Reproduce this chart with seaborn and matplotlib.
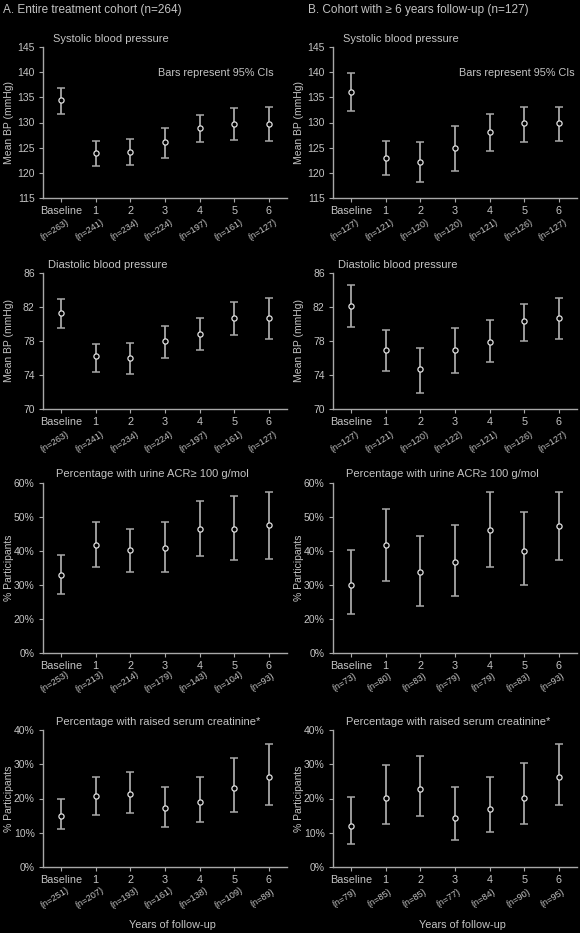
import numpy as np
import pandas as pd
import matplotlib
matplotlib.use("Agg")
import matplotlib.pyplot as plt
import seaborn as sns

# ---------------- data ----------------
categories = ["Baseline", "1", "2", "3", "4", "5", "6"]

# Panel A : entire treatment cohort
sbp_a_mean = [134.5, 124.0, 124.2, 126.2, 129.0, 129.8, 129.7]
sbp_a_lo   = [131.7, 121.3, 121.5, 123.0, 126.2, 126.5, 126.3]
sbp_a_hi   = [136.9, 126.3, 126.8, 129.0, 131.5, 132.8, 133.1]
sbp_a_n    = [263, 241, 234, 224, 197, 161, 127]

dbp_a_mean = [81.3, 76.2, 76.0, 78.0, 78.8, 80.65, 80.65]
dbp_a_lo   = [79.5, 74.4, 74.1, 76.0, 76.9, 78.7, 78.2]
dbp_a_hi   = [82.9, 77.6, 77.8, 79.75, 80.7, 82.6, 83.1]
dbp_a_n    = [263, 241, 234, 224, 197, 161, 127]

acr_a_mean = [32.8, 41.7, 40.2, 40.9, 46.6, 46.5, 47.6]
acr_a_lo   = [27.4, 35.2, 33.7, 33.7, 38.4, 37.3, 37.6]
acr_a_hi   = [38.9, 48.4, 46.6, 48.4, 54.8, 56.1, 57.5]
acr_a_n    = [253, 213, 214, 179, 143, 104, 93]

cr_a_mean  = [15.0, 20.6, 21.4, 17.2, 19.1, 23.0, 26.2]
cr_a_lo    = [11.2, 15.2, 15.9, 11.8, 13.1, 16.2, 18.2]
cr_a_hi    = [19.8, 26.4, 27.6, 23.3, 26.2, 31.9, 35.8]
cr_a_n     = [251, 207, 193, 161, 138, 109, 89]

# Panel B : cohort with >= 6 years follow-up
sbp_b_mean = [136.1, 122.9, 122.1, 124.9, 128.2, 129.9, 129.9]
sbp_b_lo   = [132.3, 119.5, 118.2, 120.3, 124.4, 126.2, 126.4]
sbp_b_hi   = [139.8, 126.4, 126.2, 129.4, 131.7, 133.1, 133.1]
sbp_b_n    = [127, 121, 120, 120, 121, 126, 127]

dbp_b_mean = [82.1, 76.9, 74.7, 77.0, 77.9, 80.3, 80.65]
dbp_b_lo   = [79.7, 74.5, 71.9, 74.2, 75.5, 78.0, 78.2]
dbp_b_hi   = [84.6, 79.3, 77.2, 79.55, 80.5, 82.3, 83.1]
dbp_b_n    = [127, 121, 120, 122, 121, 126, 127]

acr_b_mean = [30.1, 41.7, 33.7, 36.8, 46.3, 40.1, 47.5]
acr_b_lo   = [21.5, 31.3, 23.9, 26.7, 35.2, 29.9, 37.5]
acr_b_hi   = [40.2, 52.5, 44.5, 47.7, 57.5, 51.4, 57.5]
acr_b_n    = [73, 80, 83, 79, 79, 83, 93]

cr_b_mean  = [12.0, 20.1, 22.7, 14.3, 17.0, 20.1, 26.2]
cr_b_lo    = [6.7, 12.6, 14.8, 8.0, 10.1, 12.6, 18.2]
cr_b_hi    = [20.3, 29.8, 32.4, 23.3, 26.4, 30.5, 35.8]
cr_b_n     = [79, 85, 85, 77, 84, 90, 95]

sbp_ticks = [115, 120, 125, 130, 135, 140, 145]
dbp_ticks = [70, 74, 78, 82, 86]
acr_ticks = [10, 20, 30, 40, 50, 60]
acr_tick_labels = ["0%", "20%", "30%", "40%", "50%", "60%"]
cr_ticks = [0, 10, 20, 30, 40]
cr_tick_labels = ["0%", "10%", "20%", "30%", "40%"]

# ---------------- style ----------------
sns.set_theme(style="ticks")
BG = "black"
FG = "#c4c4c4"
BAR = "#a8a8a8"
plt.rcParams["font.family"] = ["Liberation Sans", "DejaVu Sans"]
plt.rcParams.update({
    "figure.facecolor": BG, "axes.facecolor": BG, "savefig.facecolor": BG,
    "text.color": FG, "axes.labelcolor": FG, "xtick.color": BAR, "ytick.color": BAR,
    "axes.edgecolor": BAR,
})

W, H = 580, 933
fig = plt.figure(figsize=(W / 100, H / 100), dpi=100)

cols_x = [43, 333]
ax_w = 244
rows = [(47, 198), (273, 409), (483, 653), (730, 867)]


def px_axes(x0, top, bottom):
    return fig.add_axes([x0 / W, 1 - bottom / H, ax_w / W, (bottom - top) / H])


panels = [
    [(sbp_a_mean, sbp_a_lo, sbp_a_hi, sbp_a_n), (dbp_a_mean, dbp_a_lo, dbp_a_hi, dbp_a_n),
     (acr_a_mean, acr_a_lo, acr_a_hi, acr_a_n), (cr_a_mean, cr_a_lo, cr_a_hi, cr_a_n)],
    [(sbp_b_mean, sbp_b_lo, sbp_b_hi, sbp_b_n), (dbp_b_mean, dbp_b_lo, dbp_b_hi, dbp_b_n),
     (acr_b_mean, acr_b_lo, acr_b_hi, acr_b_n), (cr_b_mean, cr_b_lo, cr_b_hi, cr_b_n)],
]
row_cfg = [
    dict(lim=(115, 145), ticks=sbp_ticks, labels=[str(t) for t in sbp_ticks], ylabel="Mean BP (mmHg)"),
    dict(lim=(70, 86), ticks=dbp_ticks, labels=[str(t) for t in dbp_ticks], ylabel="Mean BP (mmHg)"),
    dict(lim=(10, 60), ticks=acr_ticks, labels=acr_tick_labels, ylabel="% Participants"),
    dict(lim=(0, 40), ticks=cr_ticks, labels=cr_tick_labels, ylabel="% Participants"),
]
n_offsets = [32, 33, 29, 31]

for c in range(2):
    for r in range(4):
        mean, lo, hi, ns = panels[c][r]
        cfg = row_cfg[r]
        ax = px_axes(cols_x[c], *rows[r])
        pos = np.arange(len(categories))
        df = pd.DataFrame({"pos": pos, "mean": mean, "lo": lo, "hi": hi})
        ax.errorbar(df["pos"], df["mean"],
                    yerr=[df["mean"] - df["lo"], df["hi"] - df["mean"]],
                    fmt="none", ecolor=BAR, elinewidth=1.3, capsize=3, capthick=1.1, zorder=2)
        sns.scatterplot(data=df, x="pos", y="mean", ax=ax, marker="o", s=14,
                        facecolor=BG, edgecolor="#e0e0e0", linewidth=0.9, zorder=3, legend=False)
        ax.set_xlim(-0.52, 6.52)
        ax.set_ylim(*cfg["lim"])
        ax.set_yticks(cfg["ticks"])
        ax.set_yticklabels(cfg["labels"], fontsize=7.5, color=FG)
        ax.set_xticks(pos)
        ax.set_xticklabels(categories, fontsize=7.8, color=FG)
        ax.tick_params(axis="both", length=3, width=0.8, pad=3)
        ax.set_xlabel("")
        ax.set_ylabel(cfg["ylabel"], fontsize=7.5, color=FG)
        ax.yaxis.set_label_coords(-0.118, 0.5)
        for s in ["top", "right"]:
            ax.spines[s].set_visible(False)
        for s in ["left", "bottom"]:
            ax.spines[s].set_linewidth(1.0)
            ax.spines[s].set_color(BAR)
        for i, n in enumerate(ns):
            ax.annotate(f"(n={n})", xy=(i - 0.18, 0), xycoords=("data", "axes fraction"),
                        xytext=(0, -n_offsets[r]), textcoords="offset pixels",
                        rotation=32, ha="center", va="center", fontsize=6.6, color=FG)
        if r == 0:
            ax.text(0.945 if c == 0 else 0.99, 0.83, "Bars represent 95% CIs",
                    transform=ax.transAxes, ha="right", va="center", fontsize=7.8, color=FG)

# headings
fig.text(3 / W, 1 - 10 / H, "A. Entire treatment cohort (n=264)", fontsize=8.5, va="center", color=FG)
fig.text(308 / W, 1 - 10 / H, "B. Cohort with \u2265 6 years follow-up (n=127)", fontsize=8.5, va="center", color=FG)

sub_titles = [("Systolic blood pressure", 53, 39), ("Diastolic blood pressure", 48, 265),
              ("Percentage with urine ACR\u2265 100 g/mol", 56, 474),
              ("Percentage with raised serum creatinine*", 56, 722)]
for txt, x, y in sub_titles:
    fig.text(x / W, 1 - y / H, txt, fontsize=8, va="center", color=FG)
    fig.text((x + 290) / W, 1 - y / H, txt, fontsize=8, va="center", color=FG)

fig.text(172 / W, 1 - 925 / H, "Years of follow-up", fontsize=7.8, ha="center", va="center", color=FG)
fig.text(462 / W, 1 - 925 / H, "Years of follow-up", fontsize=7.8, ha="center", va="center", color=FG)

fig.savefig("out.png", dpi=100, facecolor=BG)
